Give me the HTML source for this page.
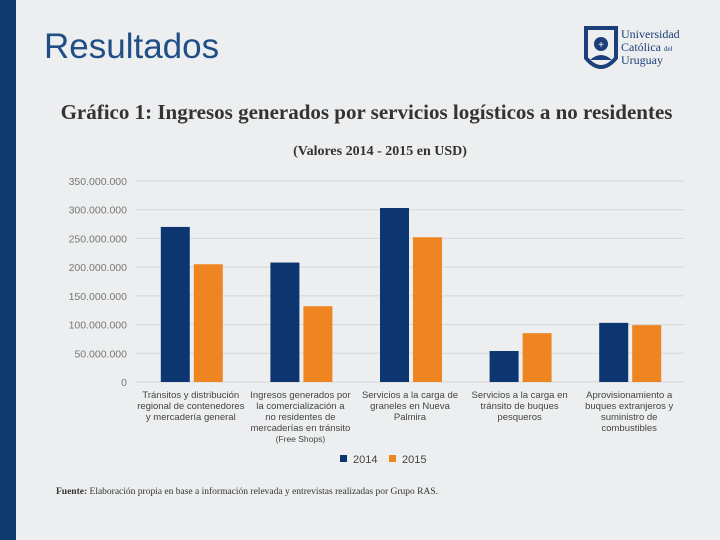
<!DOCTYPE html>
<html><head><meta charset="utf-8"><style>
body{margin:0;width:720px;height:540px;background:#eceeef;position:relative;overflow:hidden;font-family:"Liberation Sans",sans-serif}
.abs{position:absolute}
</style></head><body>
<div class="abs" style="left:0;top:0;width:16px;height:540px;background:#0e3a6e"></div>
<div class="abs" style="left:44px;top:27px;font-size:35px;color:#1f4f86">Resultados</div>
<div class="abs" style="left:583px;top:24px;width:110px;height:50px">
<svg width="110" height="50"><path d="M3 4 L33 4 L33 34 Q18 52 3 34 Z" fill="none" stroke="#1b3f78" stroke-width="4"/><circle cx="18" cy="20" r="7" fill="#1b3f78"/><text x="18" y="24" font-size="10" fill="#fff" text-anchor="middle">+</text><path d="M7 36 Q18 26 29 36" fill="#1b3f78"/>
<text x="38" y="14" font-family="Liberation Serif" font-size="12" fill="#1b3f78">Universidad</text>
<text x="38" y="27" font-family="Liberation Serif" font-size="12" fill="#1b3f78">Católica <tspan font-size="7">del</tspan></text>
<text x="38" y="40" font-family="Liberation Serif" font-size="12" fill="#1b3f78">Uruguay</text></svg></div>
<div class="abs" style="left:0;width:733px;top:100px;text-align:center;font-family:'Liberation Serif',serif;font-weight:bold;font-size:21px;color:#333">Gráfico 1: Ingresos generados por servicios logísticos a no residentes</div>
<div class="abs" style="left:0;width:760px;top:144px;text-align:center;font-family:'Liberation Serif',serif;font-weight:bold;font-size:14px;color:#333">(Valores 2014 - 2015 en USD)</div>
<svg class="abs" style="left:0;top:0" width="720" height="540" id="chart"></svg>
<div class="abs" style="left:56px;top:487px;font-family:'Liberation Serif',serif;font-size:9.5px;color:#333"><b>Fuente:</b> Elaboración propia en base a información relevada y entrevistas realizadas por Grupo RAS.</div>
<script>
const categories=[["Tránsitos y distribución","regional de contenedores","y mercadería general"],["Ingresos generados por","la comercialización a","no residentes de","mercaderías en tránsito","(Free Shops)"],["Servicios a la carga de","graneles en Nueva","Palmira"],["Servicios a la carga en","tránsito de buques","pesqueros"],["Aprovisionamiento a","buques extranjeros y","suministro de","combustibles"]];
const values2014=[270000000,208000000,303000000,54000000,103000000];
const values2015=[205000000,132000000,252000000,85000000,99000000];
const ticks=[0,50000000,100000000,150000000,200000000,250000000,300000000,350000000];
const tickLabels=["0","50.000.000","100.000.000","150.000.000","200.000.000","250.000.000","300.000.000","350.000.000"];
const svg=document.getElementById('chart');const NS='http://www.w3.org/2000/svg';
const x0=136,x1=684,y0=382,y1=181,maxV=350000000;
const y=v=>y0-(v/maxV)*(y0-y1);
const band=(x1-x0)/categories.length;
function mk(t,a,txt){const e=document.createElementNS(NS,t);for(const k in a)e.setAttribute(k,a[k]);if(txt!==undefined)e.textContent=txt;svg.appendChild(e);return e;}
ticks.forEach((t,i)=>{const l=mk('line',{x1:x0,x2:x1,y1:y(t),y2:y(t),stroke:'#d4d6d8','stroke-width':1});


const tx=mk('text',{x:127,y:y(t)+4,'text-anchor':'end','font-size':10.5,fill:'#777'},tickLabels[i]);

});
categories.forEach((c,i)=>{const cx=x0+band*(i+0.5);
const b1=mk('rect',{x:cx-30,y:y(values2014[i]),width:29,height:y0-y(values2014[i]),fill:'#0d3671'});


const b2=mk('rect',{x:cx+3,y:y(values2015[i]),width:29,height:y0-y(values2015[i]),fill:'#ef8521'});


c.forEach((ln,j)=>{const t=mk('text',{x:cx,y:398+j*11,'text-anchor':'middle','font-size':j==4?8.5:9.5,fill:'#444'},ln);

});});
const lg=[['2014','#0d3671',340],['2015','#ef8521',389]];
lg.forEach(l=>{const r=mk('rect',{x:l[2],y:455,width:7,height:7,fill:l[1]});


const t=mk('text',{x:l[2]+13,y:463,'font-size':11,fill:'#444'},l[0]);

});
</script>
</body></html>
